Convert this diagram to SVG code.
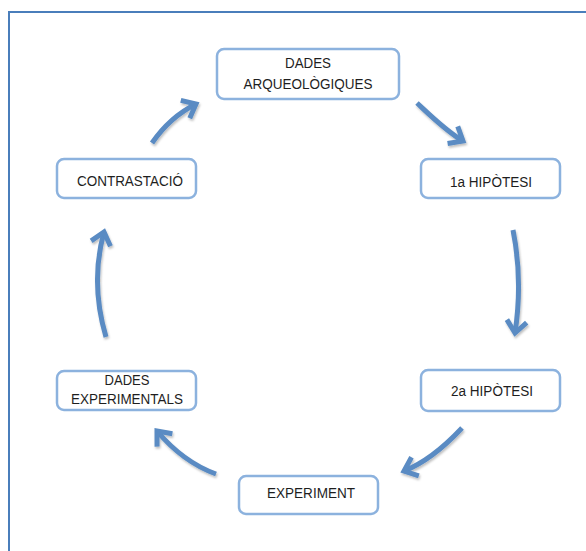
<svg xmlns="http://www.w3.org/2000/svg" width="586" height="551" viewBox="0 0 586 551">
  <style>
    .box { fill: #ffffff; stroke: #8cb2de; stroke-width: 2.5; }
    .lbl { font-family: "Liberation Sans", Arial, sans-serif; font-size: 14px; fill: #1e1e1e; text-anchor: middle; }
    .arrow { fill: none; stroke: #5a8bc3; stroke-width: 5; marker-end: url(#head); }
  </style>
  <defs>
    <filter id="sh" x="-20%" y="-20%" width="140%" height="140%">
      <feDropShadow dx="1" dy="2" stdDeviation="1.2" flood-color="#000000" flood-opacity="0.25"/>
    </filter>
    <marker id="head" viewBox="-16 -14 20 28" refX="0" refY="0" markerWidth="20" markerHeight="28" markerUnits="userSpaceOnUse" orient="auto">
      <path d="M-12,-10 L0,0 L-12,10" fill="none" stroke="#5a8bc3" stroke-width="5" stroke-linejoin="miter"/>
    </marker>
  </defs>
  <rect x="0" y="0" width="586" height="551" fill="#ffffff"/>
  <rect id="frame" x="9" y="12" width="600" height="560" fill="none" stroke="#4a7ebb" stroke-width="2"/>

  <g id="connectors" filter="url(#sh)">
    <path class="arrow" d="M152,143 Q170,117 196,104"/>
    <path class="arrow" d="M417,103 C432,117 446,131 463,141"/>
    <path class="arrow" d="M513,230 Q523,280 515,333"/>
    <path class="arrow" d="M462,428 Q432,460 404,471"/>
    <path class="arrow" d="M216,474 Q183,462 157,431"/>
    <path class="arrow" d="M106,337 Q90,283 104,232"/>
  </g>

  <g id="dades-arqueologiques">
    <rect class="box" x="217" y="49" width="182" height="50" rx="7"/>
    <text class="lbl" x="308" y="68" textLength="46" lengthAdjust="spacingAndGlyphs">DADES</text>
    <text class="lbl" x="308" y="89" textLength="129" lengthAdjust="spacingAndGlyphs">ARQUEOLÒGIQUES</text>
  </g>
  <g id="hipotesi-1">
    <rect class="box" x="421" y="159" width="139" height="39" rx="7"/>
    <text class="lbl" x="491" y="187" textLength="82" lengthAdjust="spacingAndGlyphs">1a HIPÒTESI</text>
  </g>
  <g id="hipotesi-2">
    <rect class="box" x="421" y="370" width="139" height="41" rx="7"/>
    <text class="lbl" x="492" y="396" textLength="82" lengthAdjust="spacingAndGlyphs">2a HIPÒTESI</text>
  </g>
  <g id="experiment">
    <rect class="box" x="239" y="476" width="139" height="38" rx="7"/>
    <text class="lbl" x="311" y="498" textLength="88" lengthAdjust="spacingAndGlyphs">EXPERIMENT</text>
  </g>
  <g id="dades-experimentals">
    <rect class="box" x="57" y="371" width="139" height="39" rx="7"/>
    <text class="lbl" x="127" y="385" textLength="45" lengthAdjust="spacingAndGlyphs">DADES</text>
    <text class="lbl" x="127" y="404" textLength="112" lengthAdjust="spacingAndGlyphs">EXPERIMENTALS</text>
  </g>
  <g id="contrastacio">
    <rect class="box" x="57" y="159" width="139" height="39" rx="7"/>
    <text class="lbl" x="130" y="186" textLength="106" lengthAdjust="spacingAndGlyphs">CONTRASTACIÓ</text>
  </g>
</svg>
